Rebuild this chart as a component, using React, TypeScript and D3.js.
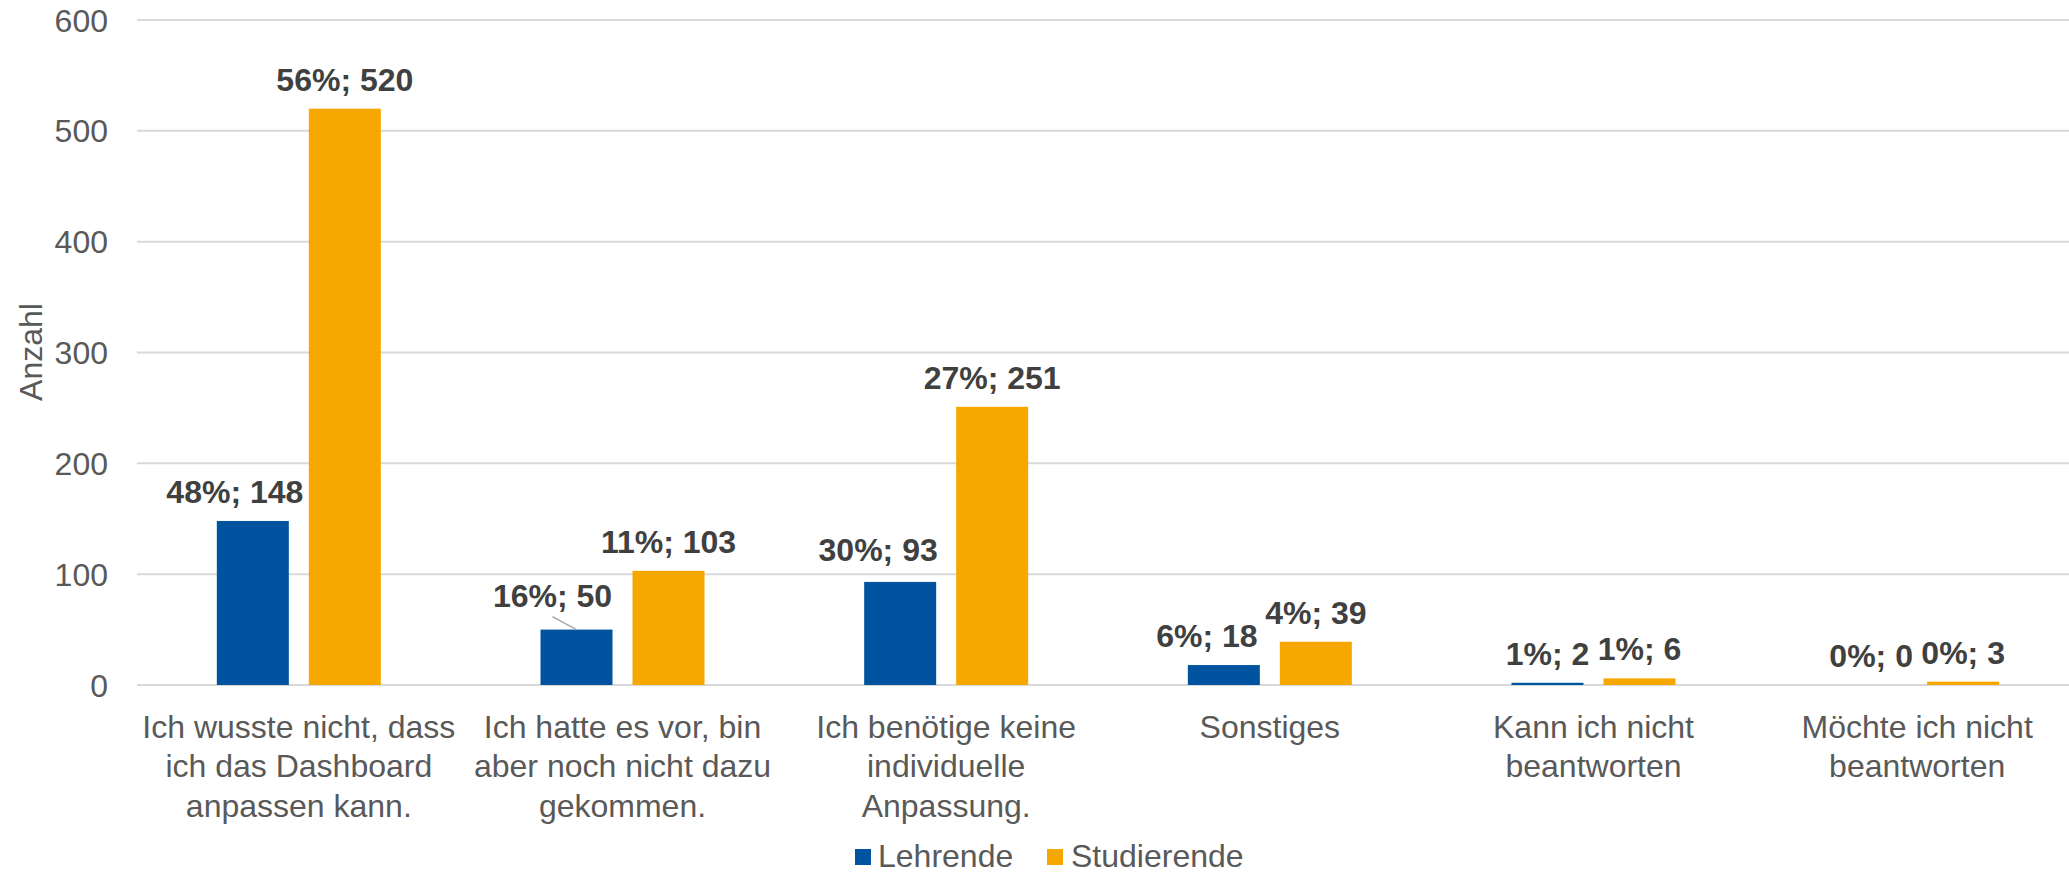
import React from "react";
import * as d3 from "d3";

const categories: string[][] = [
  ["Ich wusste nicht, dass", "ich das Dashboard", "anpassen kann."],
  ["Ich hatte es vor, bin", "aber noch nicht dazu", "gekommen."],
  ["Ich benötige keine", "individuelle", "Anpassung."],
  ["Sonstiges"],
  ["Kann ich nicht", "beantworten"],
  ["Möchte ich nicht", "beantworten"],
];
const seriesNames = ["Lehrende", "Studierende"];
const lehrende = [148, 50, 93, 18, 2, 0];
const studierende = [520, 103, 251, 39, 6, 3];
const lehrendePct = [48, 16, 30, 6, 1, 0];
const studierendePct = [56, 11, 27, 4, 1, 0];
const yTicks = [0, 100, 200, 300, 400, 500, 600];
const yTitle = "Anzahl";

// manual label nudges (layout), relative to default position above the bar
const lehrendeLabelDx = [-18, -24, -22, -17, 0, 0];
const lehrendeLabelDy = [0, -5, -3, 0, 0, 0];

const W = 2069;
const H = 873;
const FONT = "'Liberation Sans', Arial, Helvetica, sans-serif";
const COLORS = ["#00549F", "#F6A800"];

export default function App() {
  const keys = categories.map((_, i) => String(i));
  const x = d3.scaleBand<string>().domain(keys).range([137, 2079]).padding(0);
  const y = d3.scaleLinear().domain([0, 600]).range([685, 20]);
  const barW = 72;
  const gap = 20;
  const series = [
    { name: seriesNames[0], values: lehrende, pct: lehrendePct, color: COLORS[0], off: -gap / 2 - barW },
    { name: seriesNames[1], values: studierende, pct: studierendePct, color: COLORS[1], off: gap / 2 },
  ];

  return (
    <svg
      width={W}
      height={H}
      style={{ position: "absolute", left: 0, top: 0, background: "#fff" }}
      fontFamily={FONT}
    >
      {yTicks.map((t) => (
        <line key={"g" + t} x1={137} x2={W} y1={y(t)} y2={y(t)} stroke="#d9d9d9" strokeWidth={2} />
      ))}
      {yTicks.map((t) => (
        <text key={"t" + t} x={108} y={y(t) + 11.5} textAnchor="end" fontSize={32} fill="#595959">
          {t}
        </text>
      ))}
      <text
        transform={`translate(41.5,352) rotate(-90)`}
        textAnchor="middle"
        fontSize={32}
        fill="#595959"
      >
        {yTitle}
      </text>
      {series.map((s, si) =>
        s.values.map((v, i) => {
          const cx = (x(keys[i]) as number) + x.bandwidth() / 2;
          return (
            <rect
              key={`b${si}-${i}`}
              x={cx + s.off}
              y={y(v)}
              width={barW}
              height={Math.max(0, y(0) - y(v))}
              fill={s.color}
            />
          );
        })
      )}
      {(() => {
        const i = 1;
        const cx = (x(keys[i]) as number) + x.bandwidth() / 2 + series[0].off + barW / 2;
        const lx = cx + lehrendeLabelDx[i];
        const ly = y(lehrende[i]) - 18 + lehrendeLabelDy[i];
        return (
          <line x1={lx} y1={ly + 10} x2={cx} y2={y(lehrende[i])} stroke="#a6a6a6" strokeWidth={1.5} />
        );
      })()}
      {series.map((s, si) =>
        s.values.map((v, i) => {
          const cx = (x(keys[i]) as number) + x.bandwidth() / 2 + s.off + barW / 2;
          const dx = si === 0 ? lehrendeLabelDx[i] : 0;
          const dy = si === 0 ? lehrendeLabelDy[i] : 0;
          return (
            <text
              key={`l${si}-${i}`}
              x={cx + dx}
              y={y(v) - 18 + dy}
              textAnchor="middle"
              fontSize={32}
              fontWeight="bold"
              fill="#404040"
            >
              {`${s.pct[i]}%; ${v}`}
            </text>
          );
        })
      )}
      {categories.map((lines, i) => {
        const cx = (x(keys[i]) as number) + x.bandwidth() / 2;
        return (
          <text key={"c" + i} textAnchor="middle" fontSize={32} fill="#595959">
            {lines.map((ln, li) => (
              <tspan key={li} x={cx} y={737.5 + li * 39.5}>
                {ln}
              </tspan>
            ))}
          </text>
        );
      })}
      <g>
        <rect x={855} y={849} width={16} height={16} fill={COLORS[0]} />
        <text x={878} y={867} fontSize={32} fill="#595959">
          {seriesNames[0]}
        </text>
        <rect x={1047} y={849} width={16} height={16} fill={COLORS[1]} />
        <text x={1071} y={867} fontSize={32} fill="#595959">
          {seriesNames[1]}
        </text>
      </g>
    </svg>
  );
}
